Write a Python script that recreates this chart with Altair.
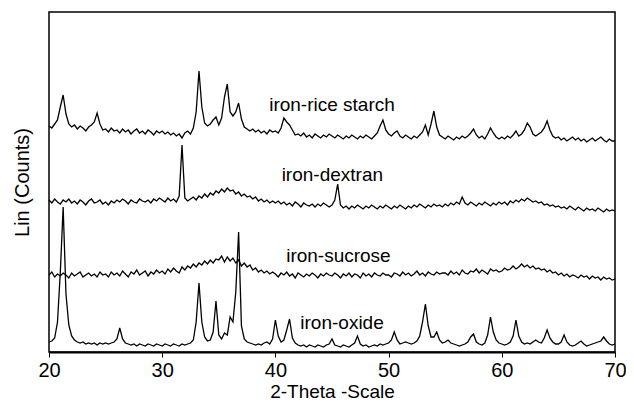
import altair as alt
import pandas as pd

# sampling grid of the diffractograms (2-theta, degrees), 0.25 deg steps from 20 to 70
two_theta = [20 + 0.25 * i for i in range(201)]

samples = ["iron-oxide", "iron-sucrose", "iron-dextran", "iron-rice starch"]

iron_oxide = [
    10, 11, 14, 30, 80, 145, 58, 27, 16, 12, 10, 9, 10, 8, 9, 8, 9, 7, 9, 8,
    9, 8, 9, 10, 13, 24, 13, 9, 8, 7, 8, 6, 8, 7, 6, 8, 7, 6, 8, 7,
    6, 8, 7, 6, 8, 7, 6, 8, 7, 8, 9, 12, 30, 69, 30, 15, 11, 12, 20, 51,
    17, 13, 19, 17, 35, 30, 60, 120, 26, 13, 10, 9, 8, 7, 8, 7, 9, 10, 8, 13,
    32, 16, 10, 12, 22, 33, 14, 9, 7, 6, 7, 5, 7, 6, 5, 7, 6, 5, 7, 8,
    13, 7, 6, 5, 7, 6, 5, 7, 9, 16, 8, 6, 7, 5, 6, 7, 6, 8, 7, 8,
    9, 12, 20, 12, 8, 9, 10, 9, 8, 9, 11, 16, 30, 48, 26, 15, 15, 20, 12, 9,
    10, 12, 9, 8, 7, 6, 7, 8, 10, 15, 18, 10, 8, 7, 9, 17, 35, 20, 12, 9,
    8, 7, 8, 10, 16, 32, 16, 10, 8, 9, 8, 10, 12, 10, 9, 14, 22, 14, 10, 8,
    8, 10, 17, 10, 7, 6, 7, 9, 11, 8, 6, 7, 8, 9, 10, 11, 15, 11, 8, 7,
    8,
]

iron_sucrose = [
    77, 80, 75, 78, 76, 79, 77, 74, 79, 76, 78, 80, 75, 77, 79, 76, 78, 75, 80, 77,
    78, 75, 80, 77, 79, 76, 81, 78, 75, 80, 78, 82, 77, 79, 81, 76, 80, 78, 82, 79,
    81, 78, 83, 80, 84, 81, 79, 85, 82, 86, 84, 88, 85, 89, 87, 91, 88, 92, 89, 93,
    92, 96, 90, 95, 91, 94, 89, 92, 86, 89, 85, 87, 82, 84, 80, 82, 79, 81, 78, 80,
    78, 75, 79, 77, 80, 76, 78, 74, 79, 77, 75, 78, 76, 79, 77, 74, 78, 76, 79, 77,
    76, 79, 77, 74, 78, 76, 79, 75, 78, 77, 74, 79, 76, 78, 75, 79, 77, 76, 79, 77,
    77, 75, 79, 78, 76, 80, 77, 79, 76, 78, 81, 77, 79, 76, 80, 78, 77, 80, 78, 79,
    79, 77, 81, 78, 80, 77, 82, 79, 78, 81, 80, 83, 79, 82, 80, 78, 83, 81, 82, 80,
    81, 84, 82, 83, 86, 83, 85, 88, 85, 87, 84, 86, 83, 84, 82, 83, 80, 82, 79, 80,
    77, 79, 76, 78, 75, 77, 76, 74, 77, 75, 76, 73, 76, 74, 75, 72, 75, 73, 74, 72,
    73,
]

iron_dextran = [
    152, 149, 153, 150, 148, 152, 150, 153, 149, 151, 148, 152, 150, 147, 151, 153, 149, 150, 152, 148,
    150, 147, 151, 149, 152, 150, 153, 151, 148, 152, 150, 149, 153, 151, 150, 152, 149, 153, 151, 154,
    152, 150, 154, 151, 153, 150, 156, 207, 154, 151, 153, 155, 152, 156, 154, 158, 155, 159, 157, 161,
    159, 163, 160, 164, 161, 162, 158, 160, 156, 158, 155, 156, 153, 155, 151, 153, 150, 152, 149, 151,
    149, 151, 148, 150, 147, 149, 146, 150, 148, 145, 149, 147, 146, 148, 145, 148, 146, 149, 147, 145,
    147, 152, 168, 147, 144, 146, 143, 146, 144, 147, 145, 143, 146, 144, 147, 145, 143, 146, 144, 147,
    145, 143, 146, 144, 147, 145, 143, 146, 144, 147, 145, 148, 146, 144, 147, 145, 148, 146, 147, 145,
    148, 146, 149, 147, 150, 148, 155, 149, 147, 150, 148, 146, 149, 147, 150, 148, 146, 149, 147, 150,
    148, 150, 147, 151, 149, 152, 150, 153, 151, 154, 152, 150, 151, 149, 150, 147, 148, 146, 147, 145,
    146, 144, 145, 143, 146, 144, 142, 145, 143, 141, 144, 142, 143, 141, 144, 142, 140, 143, 141, 142,
    141,
]

iron_rice_starch = [
    226, 224, 228, 232, 245, 257, 238, 228, 225, 227, 223, 226, 224, 221, 225, 227, 230, 239, 228, 222,
    223, 220, 224, 221, 222, 219, 223, 220, 222, 218, 221, 223, 219, 221, 218, 222, 220, 217, 221, 219,
    221, 218, 220, 217, 219, 216, 218, 214, 219, 221, 218, 224, 240, 281, 245, 229, 226, 228, 232, 235,
    227, 234, 255, 268, 240, 236, 240, 249, 233, 225, 223, 221, 223, 220, 222, 219, 221, 218, 222, 220,
    221, 219, 224, 234, 230, 227, 222, 217, 218, 216, 219, 215, 217, 214, 218, 216, 214, 217, 215, 218,
    216, 214, 217, 215, 213, 216, 214, 217, 215, 213, 216, 214, 217, 215, 213, 216, 219, 226, 232, 222,
    218, 216, 219, 221, 216, 214, 217, 215, 213, 216, 214, 217, 220, 227, 217, 228, 241, 225, 217, 215,
    213, 216, 214, 212, 215, 213, 216, 214, 216, 219, 223, 217, 214, 216, 213, 218, 224, 219, 215, 213,
    215, 213, 216, 214, 217, 221, 216, 218, 222, 229, 225, 218, 216, 218, 220, 224, 231, 222, 216, 214,
    215, 212, 214, 211, 213, 215, 212, 214, 211, 213, 210, 212, 214, 211, 213, 215, 212, 210, 213, 211,
    211,
]

# curve annotations (anchor in data coordinates)
label_text = ["iron-oxide", "iron-sucrose", "iron-dextran", "iron-rice starch"]
label_x = [42.2, 40.95, 40.55, 39.45]
label_y = [29, 96, 177, 247]

series = [iron_oxide, iron_sucrose, iron_dextran, iron_rice_starch]
rows = []
for name, vals in zip(samples, series):
    for t, v in zip(two_theta, vals):
        rows.append({"two_theta": t, "counts": v, "sample": name})
df = pd.DataFrame(rows)
labels_df = pd.DataFrame({"text": label_text, "x": label_x, "y": label_y})

FONT = "Liberation Sans"

x_scale = alt.Scale(domain=[20, 70], nice=False, zero=False)
y_scale = alt.Scale(domain=[0, 340], nice=False, zero=False)

lines = alt.Chart(df).mark_line(color="black", strokeWidth=1.3).encode(
    x=alt.X(
        "two_theta:Q",
        scale=x_scale,
        axis=alt.Axis(
            title="2-Theta -Scale",
            values=[20, 30, 40, 50, 60, 70],
            format="d",
            grid=False,
            domainColor="black",
            domainWidth=2,
            tickColor="black",
            tickWidth=1,
            tickSize=5,
            labelFontSize=20,
            labelColor="black",
            labelFont=FONT,
            labelPadding=3,
            labelFlush=False,
            titleFontSize=19,
            titleFont=FONT,
            titleFontWeight="normal",
            titleColor="black",
            titleBaseline="alphabetic",
            titleY=45,
        ),
    ),
    y=alt.Y(
        "counts:Q",
        scale=y_scale,
        axis=alt.Axis(
            title="Lin (Counts)",
            labels=False,
            ticks=False,
            domain=False,
            grid=False,
            titleFontSize=20,
            titleFont=FONT,
            titleFontWeight="normal",
            titleColor="black",
            titlePadding=17,
        ),
    ),
    detail="sample:N",
    order="two_theta:Q",
)

texts = alt.Chart(labels_df).mark_text(
    align="left", baseline="middle", fontSize=19, font=FONT, color="black"
).encode(
    x=alt.X("x:Q", scale=x_scale),
    y=alt.Y("y:Q", scale=y_scale),
    text="text:N",
)

chart = alt.layer(lines, texts).properties(
    width=566,
    height=340,
    autosize=alt.AutoSizeParams(type="none"),
    padding={"left": 41, "top": 4, "right": 11, "bottom": 49},
).configure_view(stroke="black", strokeWidth=1.5)

chart.save("out.html", embed_options={"renderer": "svg", "actions": False})
